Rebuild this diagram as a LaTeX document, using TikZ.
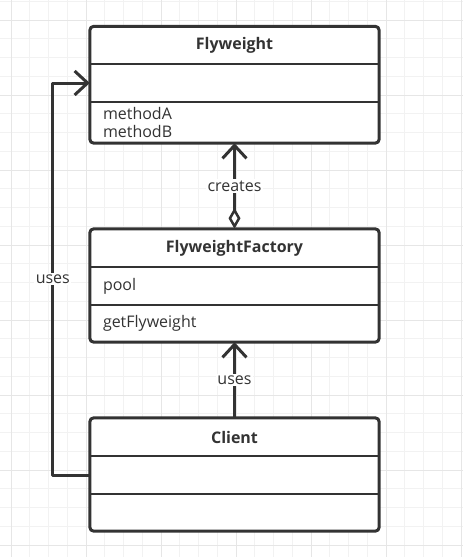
\documentclass[tikz,border=0pt]{standalone}
\usepackage{fontspec}
\setmainfont{Open Sans}
\usetikzlibrary{arrows.meta}
\definecolor{ink}{HTML}{333333}
\definecolor{gridminor}{HTML}{F2F2F2}
\definecolor{gridmajor}{HTML}{E6E6E6}
\begin{document}
\begin{tikzpicture}[x=1pt,y=-1pt,line join=round]
    \tikzstyle{part}=[fill=white,minimum width=289pt,minimum height=38pt,inner ysep=0pt,inner xsep=13pt,text width=263pt,align=left,text=ink,font=\fontsize{16}{18}\selectfont];
    \tikzstyle{head}=[part,align=center,font=\fontsize{16}{18}\selectfont\bfseries];
    \tikzstyle{box}=[draw=ink,line width=3pt,rounded corners=4pt];
    \tikzstyle{divider}=[draw=ink,line width=2.5pt];
    \tikzstyle{conn}=[draw=ink,line width=3pt,-{Straight Barb[length=13pt,width=24pt,line width=3pt]}];
    \tikzstyle{tag}=[fill=white,text=ink,inner sep=1.5pt,font=\fontsize{16}{18}\selectfont];

    \useasboundingbox (0,0) rectangle (463,557);
    \fill[white] (0,0) rectangle (463,557);
    \foreach \i in {0,...,24} \draw[gridminor,line width=1pt] ({11+18.75*\i},0) -- ({11+18.75*\i},557);
    \foreach \i in {0,...,29} \draw[gridminor,line width=1pt] (0,{1.25+18.75*\i}) -- (463,{1.25+18.75*\i});
    \foreach \i in {0,...,6} \draw[gridmajor,line width=1pt] ({11+75*\i},0) -- ({11+75*\i},557);
    \foreach \i in {0,...,7} \draw[gridmajor,line width=1pt] (0,{20+75*\i}) -- (463,{20+75*\i});

    % Flyweight
    \node[head] at (234.5, 45.5) (fw) {Flyweight};
    \node[part] at (234.5, 83)   (fwa) {};
    \node[part,minimum height=41pt] at (234.5, 122.5) (fwo) {methodA\\methodB};
    % FlyweightFactory
    \node[head] at (234.5, 248)  (fa) {FlyweightFactory};
    \node[part] at (234.5, 286)  (faa) {pool};
    \node[part,minimum height=37pt] at (234.5, 323.5) (fao) {getFlyweight};
    % Client
    \node[head] at (234.5, 437)  (cl) {Client};
    \node[part] at (234.5, 475)  (cla) {};
    \node[part,minimum height=37pt] at (234.5, 512.5) (clo) {};

    \foreach \h/\a/\o in {fw/fwa/fwo, fa/faa/fao, cl/cla/clo} {
      \draw[box] (\h.north west) rectangle (\o.south east);
      \draw[divider] (\a.north west) -- (\a.north east);
      \draw[divider] (\o.north west) -- (\o.north east);
    }

    \draw[conn] (cl.north) -- node[tag] {uses} (fao.south);
    \draw[conn,{Diamond[open,fill=white,length=21pt,width=12pt,line width=2.5pt]}-{Straight Barb[length=13pt,width=24pt,line width=3pt]}] (fa.north) -- node[tag] {creates} (fwo.south);
    \draw[conn] (cla.west) -- ++(-37,0) |- node[tag,pos=0.25] {uses} (fwa.west);
\end{tikzpicture}
\end{document}
